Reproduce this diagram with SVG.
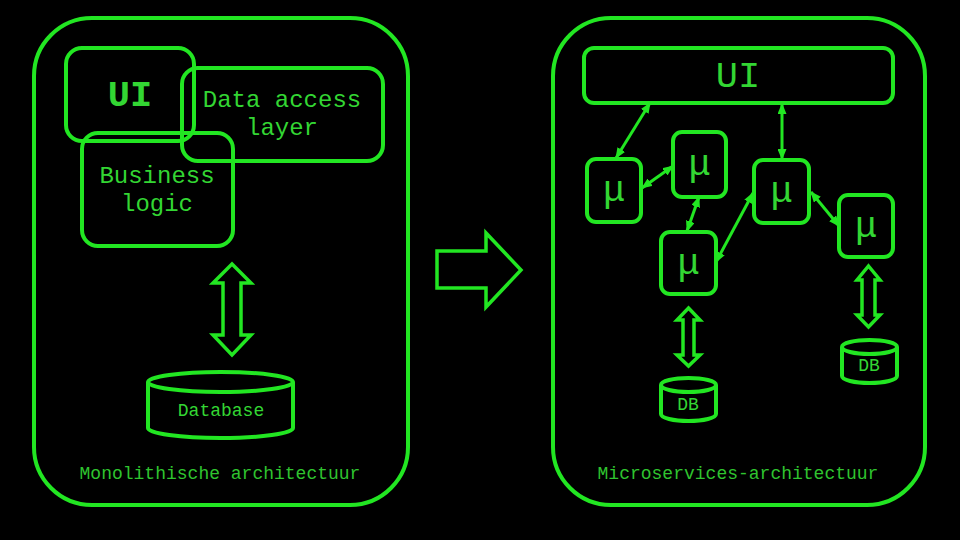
<svg xmlns="http://www.w3.org/2000/svg" width="960" height="540" viewBox="0 0 960 540">
<style>
.box{fill:none;stroke:#22e622;stroke-width:4}
.panel{fill:none;stroke:#22e622;stroke-width:4}
.hol{fill:none;stroke:#22e622;stroke-width:3.5;stroke-linejoin:miter}
.con{stroke:#22e622;stroke-width:3;fill:none}
text{font-family:"Liberation Mono","DejaVu Sans Mono",monospace;fill:#33d633;text-anchor:middle}
.big{font-size:37px}
.mid{font-size:24px}
.sm{font-size:18px}
.foot{font-size:18px;fill:#2fc42f}
</style>
<defs>
<marker id="ah" markerUnits="userSpaceOnUse" markerWidth="11" markerHeight="9" refX="10" refY="4.5" orient="auto-start-reverse">
<path d="M0,0 L11,4.5 L0,9 z" fill="#22e622"/>
</marker>
</defs>
<rect width="960" height="540" fill="#000"/>

<g id="monolith-panel">
<rect class="panel" x="34" y="18" width="374" height="487" rx="58" ry="58"/>
<text class="foot" x="220" y="479">Monolithische architectuur</text>
</g>
<g id="mono-ui">
<rect class="box" x="66" y="48" width="128" height="93" rx="16"/>
<text class="big" x="130" y="106" font-weight="bold">UI</text>
</g>
<g id="mono-dal">
<rect class="box" x="182" y="68" width="201" height="93" rx="16"/>
<text class="mid" x="282" y="107">Data access</text>
<text class="mid" x="282" y="135">layer</text>
</g>
<g id="mono-bl">
<rect class="box" x="82" y="133" width="151" height="113" rx="16"/>
<text class="mid" x="157" y="183">Business</text>
<text class="mid" x="157" y="211">logic</text>
</g>
<g id="mono-db">
<path class="box" d="M148,382 L148,428 A72.5,10 0 0 0 293,428 L293,382"/>
<ellipse class="box" cx="220.5" cy="382" rx="72.5" ry="10"/>
<text class="sm" x="221" y="416">Database</text>
</g>

<g id="transition-arrow">
<polygon class="hol" points="437,251 486,251 486,233 521,270 486,307 486,288 437,288"/>
</g>

<g id="micro-panel">
<rect class="panel" x="553" y="18" width="372" height="487" rx="58" ry="58"/>
<text class="foot" x="738" y="479">Microservices-architectuur</text>
</g>
<g id="micro-ui">
<rect class="box" x="584" y="48" width="309" height="55" rx="10"/>
<text class="big" x="738" y="87">UI</text>
</g>
<g id="mu1">
<rect class="box" x="587" y="159" width="54" height="63" rx="9"/>
<text class="big" x="614" y="201">μ</text>
</g>
<g id="mu2">
<rect class="box" x="673" y="132" width="53" height="65" rx="9"/>
<text class="big" x="699.5" y="175">μ</text>
</g>
<g id="mu3">
<rect class="box" x="754" y="160" width="55" height="63" rx="9"/>
<text class="big" x="781.5" y="202">μ</text>
</g>
<g id="mu4">
<rect class="box" x="839" y="195" width="54" height="62" rx="9"/>
<text class="big" x="866" y="237">μ</text>
</g>
<g id="mu5">
<rect class="box" x="661" y="232" width="55" height="62" rx="9"/>
<text class="big" x="688.5" y="274">μ</text>
</g>
<g id="db-right">
<path class="box" d="M842,347 L842,376 A27.5,7 0 0 0 897,376 L897,347"/>
<ellipse class="box" cx="869.5" cy="347" rx="27.5" ry="7"/>
<text class="sm" x="869" y="371">DB</text>
</g>
<g id="db-left">
<path class="box" d="M661,385 L661,414 A27.5,7 0 0 0 716,414 L716,385"/>
<ellipse class="box" cx="688.5" cy="385" rx="27.5" ry="7"/>
<text class="sm" x="688" y="410">DB</text>
</g>

<g id="connectors">
<polygon class="hol" points="232,264 251,283 241,283 241,335 251,335 232,355 213,335 223,335 223,283 213,283"/>
<polygon class="hol" points="868.5,266 880,280 875,280 875,315 880,315 868.5,327 857,315 862,315 862,280 857,280"/>
<polygon class="hol" points="688.5,308 700,320 694,320 694,355 700,355 688.5,366 677,355 683,355 683,320 677,320"/>
<line class="con" x1="650" y1="103" x2="616" y2="158" marker-start="url(#ah)" marker-end="url(#ah)"/>
<line class="con" x1="642" y1="188" x2="673" y2="166" marker-start="url(#ah)" marker-end="url(#ah)"/>
<line class="con" x1="699" y1="197" x2="687" y2="231" marker-start="url(#ah)" marker-end="url(#ah)"/>
<line class="con" x1="716" y1="262" x2="753" y2="193" marker-start="url(#ah)" marker-end="url(#ah)"/>
<line class="con" x1="782" y1="104" x2="782" y2="159" marker-start="url(#ah)" marker-end="url(#ah)"/>
<line class="con" x1="811" y1="192" x2="839" y2="226" marker-start="url(#ah)" marker-end="url(#ah)"/>
</g>
</svg>
